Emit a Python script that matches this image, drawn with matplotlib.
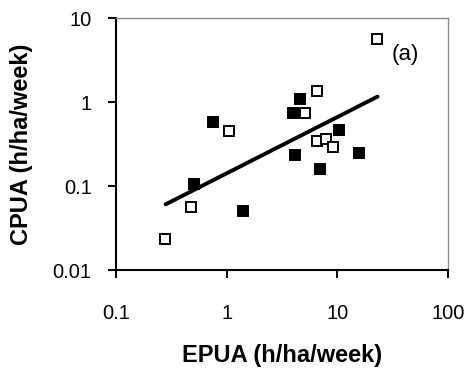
import matplotlib
matplotlib.use("Agg")
import matplotlib.pyplot as plt
from matplotlib.ticker import FixedLocator, NullLocator

plt.rcParams['font.family'] = ['Liberation Sans', 'DejaVu Sans']

# open squares
open_x = [22.6, 6.58, 5.1, 1.05, 6.55, 7.9, 9.18, 0.475, 0.277]
open_y = [5.6, 1.35, 0.73, 0.45, 0.344, 0.363, 0.288, 0.057, 0.0234]
# filled squares
filled_x = [4.59, 4.0, 0.757, 10.3, 4.14, 15.7, 6.97, 0.507, 1.41]
filled_y = [1.09, 0.73, 0.573, 0.46, 0.234, 0.245, 0.159, 0.105, 0.050]
# fitted power line (end points)
fit_x = [0.281, 23.1]
fit_y = [0.0605, 1.16]

xticks = [0.1, 1, 10, 100]
xlabels = ["0.1", "1", "10", "100"]
yticks = [0.01, 0.1, 1, 10]
ylabels = ["0.01", "0.1", "1", "10"]

fig = plt.figure(figsize=(4.71, 3.76), dpi=100)
ax = fig.add_axes([116/471, 1 - 270/376, 332/471, 252/376])

ax.plot(open_x, open_y, ls='none', marker='s', ms=7.5, mfc='white',
        mec='black', mew=1.4, zorder=3)
ax.plot(filled_x, filled_y, ls='none', marker='s', ms=7.5, mfc='black',
        mec='black', mew=1.4, zorder=3)
ax.plot(fit_x, fit_y, color='black', lw=2.8, solid_capstyle='round', zorder=4)

ax.set_xscale('log')
ax.set_yscale('log')
ax.set_xlim(0.1, 100)
ax.set_ylim(0.01, 10)
ax.xaxis.set_major_locator(FixedLocator(xticks))
ax.yaxis.set_major_locator(FixedLocator(yticks))
ax.xaxis.set_minor_locator(NullLocator())
ax.yaxis.set_minor_locator(NullLocator())
ax.set_xticklabels(xlabels)
ax.set_yticklabels(ylabels)
ax.tick_params(axis='x', direction='out', length=5.5, width=1.4, pad=19,
               labelsize=14.5)
ax.tick_params(axis='y', direction='out', length=5.5, width=1.4, pad=12,
               labelsize=14.5)

for s in ['left', 'bottom']:
    ax.spines[s].set_color('black')
    ax.spines[s].set_linewidth(1.5)
for s in ['top', 'right']:
    ax.spines[s].set_color('#8c8c8c')
    ax.spines[s].set_linewidth(1.0)

ax.set_xlabel("EPUA (h/ha/week)", fontsize=17, fontweight='bold', labelpad=15)
ax.set_ylabel("CPUA (h/ha/week)", fontsize=17, fontweight='bold', labelpad=14)
ax.text(0.87, 0.857, "(a)", transform=ax.transAxes, fontsize=16,
        ha='center', va='center')

fig.savefig("out.png", dpi=100)
